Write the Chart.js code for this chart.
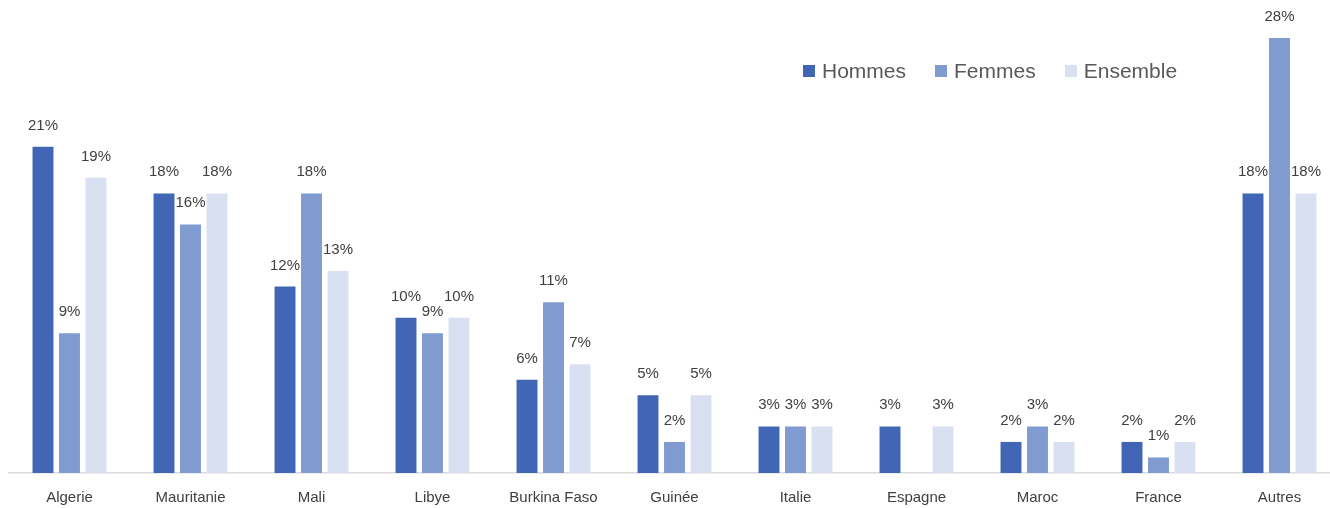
<!DOCTYPE html>
<html>
<head>
<meta charset="utf-8">
<script src="https://cdn.jsdelivr.net/npm/chart.js@4"></script>
<style>
  body { margin: 0; overflow: hidden; background: #fff; }
  #wrap { position: relative; width: 1330px; height: 508px; overflow: hidden; }
  #legend { position: absolute; left: 803px; top: 59px; display: flex; gap: 29px; font-family: "Liberation Sans", Arial, sans-serif; font-size: 21px; color: #595959; }
  #legend span.item { display: flex; align-items: center; }
  #legend span.box { width: 12px; height: 12px; margin-right: 7px; display: inline-block; }
</style>
</head>
<body>
<div id="wrap">
  <canvas id="chart" width="1340" height="508"></canvas>
  <div id="legend"></div>
</div>
<script>
const categories = ['Algerie', 'Mauritanie', 'Mali', 'Libye', 'Burkina Faso', 'Guinée', 'Italie', 'Espagne', 'Maroc', 'France', 'Autres'];
const seriesNames = ['Hommes', 'Femmes', 'Ensemble'];
const hommes = [21, 18, 12, 10, 6, 5, 3, 3, 2, 2, 18];
const femmes = [9, 16, 18, 9, 11, 2, 3, null, 3, 1, 28];
const ensemble = [19, 18, 13, 10, 7, 5, 3, 3, 2, 2, 18];
const colors = ['#4066B5', '#7F9BD0', '#D9E0F1'];

const FONT = '"Liberation Sans", Arial, sans-serif';

// value labels above each bar
const barLabels = {
  id: 'barLabels',
  afterDatasetsDraw(chart) {
    const ctx = chart.ctx;
    ctx.save();
    ctx.font = '15px ' + FONT;
    ctx.fillStyle = '#404040';
    ctx.textAlign = 'center';
    ctx.textBaseline = 'alphabetic';
    chart.data.datasets.forEach((ds, i) => {
      chart.getDatasetMeta(i).data.forEach((bar, j) => {
        const v = ds.data[j];
        if (v === null || v === undefined) return;
        ctx.fillText(v + '%', bar.x, bar.y - 17);
      });
    });
    ctx.restore();
  }
};

new Chart(document.getElementById('chart'), {
  type: 'bar',
  data: {
    labels: categories,
    datasets: [
      { label: seriesNames[0], data: hommes, backgroundColor: colors[0] },
      { label: seriesNames[1], data: femmes, backgroundColor: colors[1] },
      { label: seriesNames[2], data: ensemble, backgroundColor: colors[2] }
    ]
  },
  options: {
    responsive: false,
    animation: false,
    categoryPercentage: 0.657,
    barPercentage: 0.79,
    layout: { padding: { top: 7, left: 9, right: 0, bottom: 0 } },
    plugins: {
      legend: { display: false },
      tooltip: { enabled: false }
    },
    scales: {
      y: { display: false, min: 0, max: 30 },
      x: {
        grid: { display: false, drawTicks: false },
        border: { color: '#D9D9D9', width: 1.5 },
        ticks: { color: '#404040', font: { family: FONT, size: 15 }, padding: 16 },
        afterFit(scale) { scale.height = 35; }
      }
    }
  },
  plugins: [barLabels]
});

// legend
const legend = document.getElementById('legend');
seriesNames.forEach((name, i) => {
  const item = document.createElement('span');
  item.className = 'item';
  const box = document.createElement('span');
  box.className = 'box';
  box.style.background = colors[i];
  item.appendChild(box);
  item.appendChild(document.createTextNode(name));
  legend.appendChild(item);
});
</script>
</body>
</html>
